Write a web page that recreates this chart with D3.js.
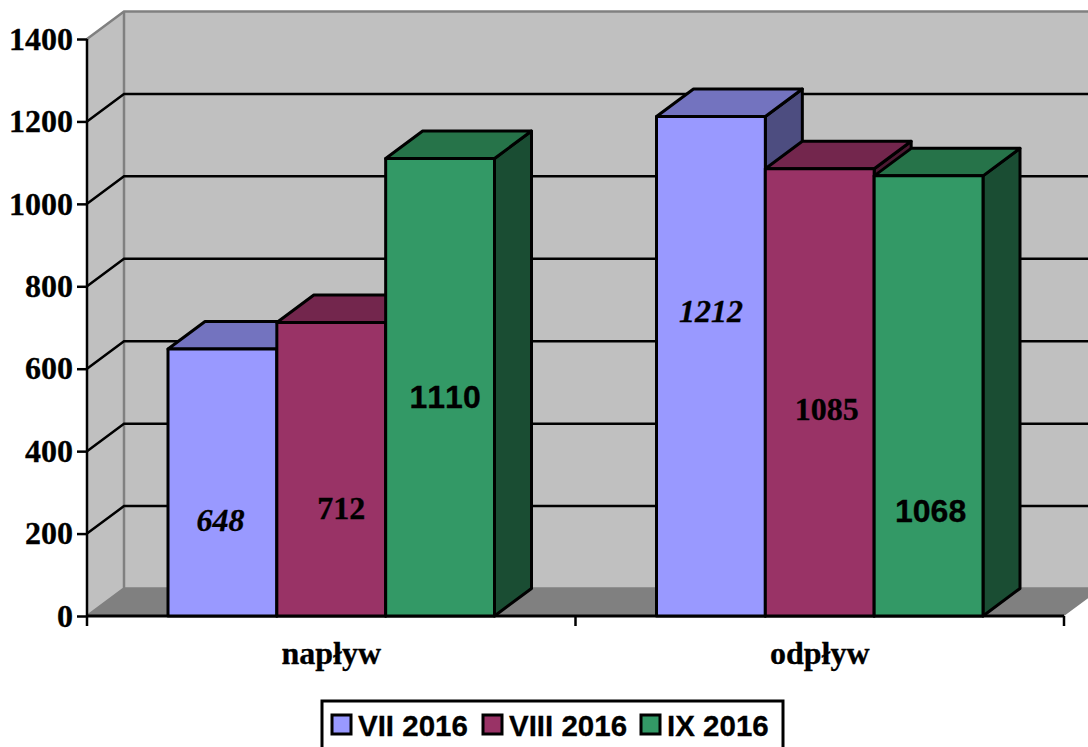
<!DOCTYPE html>
<html>
<head>
<meta charset="utf-8">
<script src="https://cdn.jsdelivr.net/npm/d3@7"></script>
<style>
  html, body { margin: 0; padding: 0; background: #fff; overflow: hidden; }
  svg { display: block; }
  text { fill: #000; font-kerning: none; stroke: #000; stroke-width: 0.3px; }
  .serif { font-family: "Liberation Serif", serif; font-weight: bold; font-size: 32px; }
  .sans { font-family: "Liberation Sans", sans-serif; font-weight: bold; }
</style>
</head>
<body>
<svg id="chart" width="1088" height="747"></svg>
<script>
  "use strict";

  /***** Data *****/
  var categories = ["napływ", "odpływ"];
  var seriesNames = ["VII 2016", "VIII 2016", "IX 2016"];
  var seriesValues = [
    [648, 712, 1110],
    [1212, 1085, 1068]
  ];
  var yTicks = [0, 200, 400, 600, 800, 1000, 1200, 1400];

  /***** Style *****/
  var faceColors = ["#9999ff", "#993366", "#339966"];
  var topColors = ["#7373bf", "#73264d", "#267349"];
  var sideColors = ["#4d4d80", "#4d1a33", "#1a4d33"];
  var labelFonts = [
    { cls: "serif", style: "italic", size: 32 },
    { cls: "serif", style: "normal", size: 32 },
    { cls: "sans", style: "normal", size: 32 }
  ];
  // data labels were placed by hand in the original chart: offset from bar middle
  var labelOffsets = [
    [[-2, 37], [10, 39], [5, 10]],
    [[0, -55], [7, 16], [2, 115]]
  ];

  /***** Config *****/
  var plotLeft = 87, plotRight = 1064, plotTop = 39, plotBottom = 616;
  var depthX = 37, depthY = -27.5;

  var x0 = d3.scaleBand().domain(categories).range([plotLeft, plotRight]);
  var x1 = d3.scaleBand().domain(seriesNames).range([81, 407.5]);
  var y = d3.scaleLinear().domain([0, 1400]).range([plotBottom, plotTop]);

  var svg = d3.select("#chart");

  function pts(list) {
    return list.map(function (p) { return p.join(","); }).join(" ");
  }

  /***** Walls and floor *****/
  var walls = svg.append("g");
  walls.append("polygon")
    .attr("points", pts([[plotLeft, plotTop], [plotLeft + depthX, plotTop + depthY], [1100, plotTop + depthY], [1100, plotBottom + depthY], [plotLeft + depthX, plotBottom + depthY], [plotLeft, plotBottom]]))
    .attr("fill", "#c0c0c0");
  walls.append("polygon")
    .attr("points", pts([[plotLeft, plotBottom], [plotLeft + depthX, plotBottom + depthY], [plotRight + depthX, plotBottom + depthY], [plotRight, plotBottom]]))
    .attr("fill", "#808080");
  walls.append("path")
    .attr("d", "M" + plotLeft + "," + plotTop + "L" + (plotLeft + depthX) + "," + (plotTop + depthY) + "H1100" +
      "M" + (plotLeft + depthX) + "," + (plotTop + depthY) + "V" + (plotBottom + depthY) + "H1100" +
      "M" + (plotLeft + depthX) + "," + (plotBottom + depthY) + "L" + plotLeft + "," + plotBottom)
    .attr("fill", "none")
    .attr("stroke", "#808080")
    .attr("stroke-width", 2.5);

  /***** Gridlines *****/
  svg.append("g").selectAll("path")
    .data(yTicks.filter(function (d) { return d > 0 && d < 1400; }))
    .enter()
    .append("path")
    .attr("d", function (d) {
      return "M" + plotLeft + "," + y(d) + "L" + (plotLeft + depthX) + "," + (y(d) + depthY) + "H1100";
    })
    .attr("fill", "none")
    .attr("stroke", "#000")
    .attr("stroke-width", 2.5);

  /***** Axes *****/
  var yAxis = d3.axisLeft(y).tickValues(yTicks).tickFormat(d3.format("d")).tickSize(10).tickPadding(4);
  var yGroup = svg.append("g").attr("transform", "translate(" + plotLeft + ",0)").call(yAxis);
  yGroup.select(".domain").remove();
  yGroup.selectAll("line").attr("stroke", "#000").attr("stroke-width", 2.5);
  yGroup.selectAll("text").attr("class", "serif").style("fill", "#000").attr("dy", "0.32em");
  yGroup.append("line")
    .attr("y1", plotTop).attr("y2", plotBottom + 10)
    .attr("stroke", "#000").attr("stroke-width", 2.5);

  var xGroup = svg.append("g");
  xGroup.append("line")
    .attr("x1", plotLeft).attr("x2", plotRight)
    .attr("y1", plotBottom).attr("y2", plotBottom)
    .attr("stroke", "#000").attr("stroke-width", 3);
  xGroup.selectAll(".cat-tick")
    .data(categories)
    .enter()
    .append("line")
    .attr("class", "cat-tick")
    .attr("x1", function (d) { return x0(d) + x0.bandwidth(); })
    .attr("x2", function (d) { return x0(d) + x0.bandwidth(); })
    .attr("y1", plotBottom).attr("y2", plotBottom + 10)
    .attr("stroke", "#000").attr("stroke-width", 2.5);
  xGroup.selectAll(".cat-label")
    .data(categories)
    .enter()
    .append("text")
    .attr("class", "cat-label serif")
    .attr("x", function (d) { return x0(d) + x0.bandwidth() / 2; })
    .attr("y", 664)
    .attr("text-anchor", "middle")
    .style("font-size", "32px")
    .text(function (d) { return d; });

  /***** Bars *****/
  var bars = [];
  categories.forEach(function (c, ci) {
    seriesNames.forEach(function (s, si) {
      bars.push({ cat: c, name: s, ci: ci, si: si, value: seriesValues[ci][si] });
    });
  });

  var barGroups = svg.append("g").selectAll("g")
    .data(bars)
    .enter()
    .append("g")
    .attr("stroke", "#000")
    .attr("stroke-width", 3)
    .attr("stroke-linejoin", "round");

  function corners(d) {
    return {
      l: x0(d.cat) + x1(d.name),
      r: x0(d.cat) + x1(d.name) + x1.bandwidth(),
      t: y(d.value)
    };
  }

  barGroups.append("polygon")
    .attr("fill", function (d) { return sideColors[d.si]; })
    .attr("points", function (d) {
      var c = corners(d);
      return pts([[c.r, c.t], [c.r + depthX, c.t + depthY], [c.r + depthX, plotBottom + depthY], [c.r, plotBottom]]);
    });
  barGroups.append("polygon")
    .attr("fill", function (d) { return topColors[d.si]; })
    .attr("points", function (d) {
      var c = corners(d);
      return pts([[c.l, c.t], [c.l + depthX, c.t + depthY], [c.r + depthX, c.t + depthY], [c.r, c.t]]);
    });
  barGroups.append("rect")
    .attr("fill", function (d) { return faceColors[d.si]; })
    .attr("x", function (d) { return corners(d).l; })
    .attr("y", function (d) { return corners(d).t; })
    .attr("width", x1.bandwidth())
    .attr("height", function (d) { return plotBottom - y(d.value); });

  /***** Data labels *****/
  svg.append("g").selectAll("text")
    .data(bars)
    .enter()
    .append("text")
    .attr("class", function (d) { return labelFonts[d.si].cls; })
    .style("font-style", function (d) { return labelFonts[d.si].style; })
    .style("font-size", function (d) { return labelFonts[d.si].size + "px"; })
    .attr("text-anchor", "middle")
    .attr("dy", "0.35em")
    .attr("x", function (d) {
      return x0(d.cat) + x1(d.name) + x1.bandwidth() / 2 + labelOffsets[d.ci][d.si][0];
    })
    .attr("y", function (d) {
      return (y(d.value) + plotBottom) / 2 + labelOffsets[d.ci][d.si][1];
    })
    .text(function (d) { return d.value; });

  /***** Legend *****/
  var legendX = [332, 483, 641];
  var legend = svg.append("g");
  legend.append("rect")
    .attr("x", 322).attr("y", 701)
    .attr("width", 461).attr("height", 80)
    .attr("fill", "#fff").attr("stroke", "#000").attr("stroke-width", 3);
  var items = legend.selectAll(".item")
    .data(seriesNames)
    .enter()
    .append("g")
    .attr("class", "item")
    .attr("transform", function (d, i) { return "translate(" + legendX[i] + ",715)"; });
  items.append("rect")
    .attr("width", 19).attr("height", 19)
    .attr("fill", function (d, i) { return faceColors[i]; })
    .attr("stroke", "#000").attr("stroke-width", 3);
  items.append("text")
    .attr("class", "sans")
    .attr("x", 26)
    .attr("y", 21)
    .style("font-size", "29.5px")
    .text(function (d) { return d; });
</script>
</body>
</html>
